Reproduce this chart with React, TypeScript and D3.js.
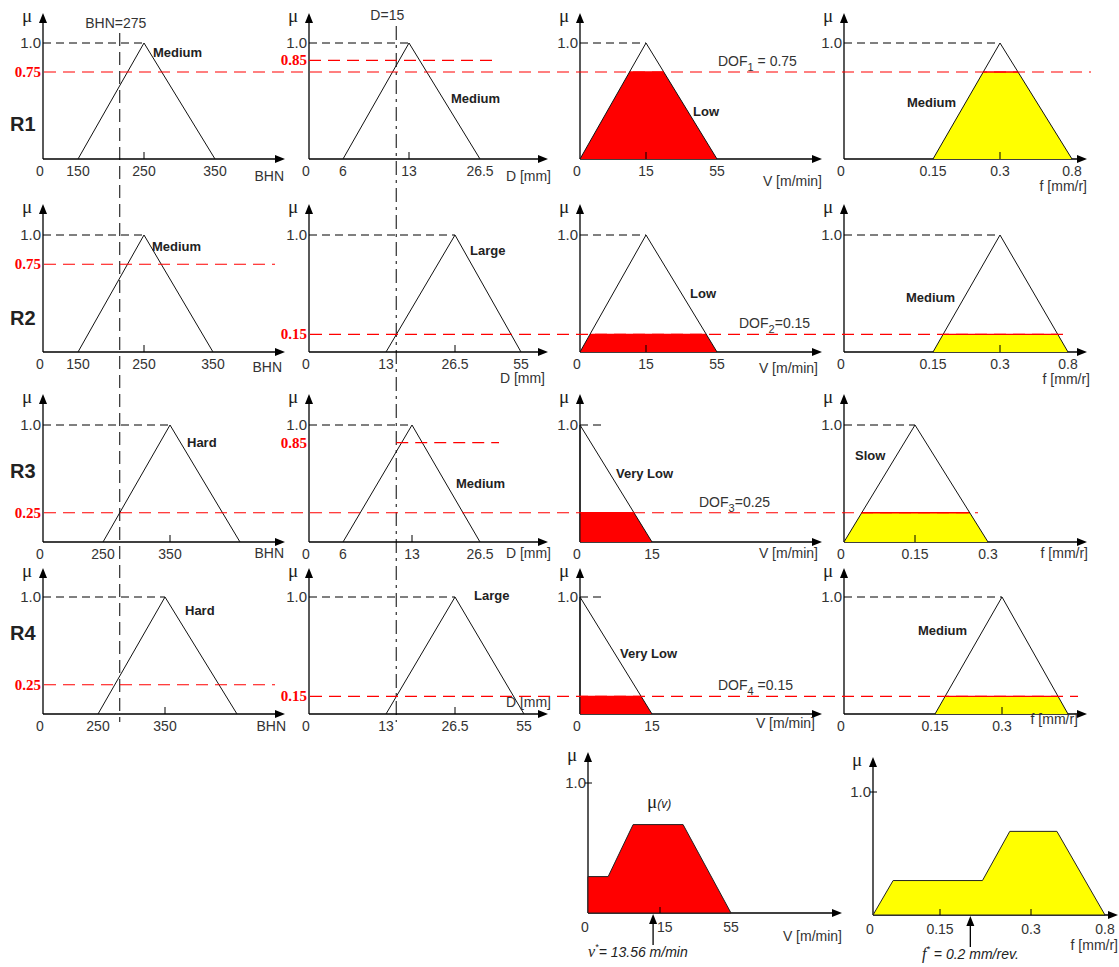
import React from "react";
import * as d3 from "d3";

// ---- rule data ----
const rules = ["R1", "R2", "R3", "R4"];
const dof = [0.75, 0.15, 0.25, 0.15];
const dofSep = [" = ", "=", "=", " ="];

// inputs
const bhnInput = 275;
const dInput = 15;

// hardness BHN
const bhnSets = ["Medium", "Medium", "Hard", "Hard"];
const bhnTri = [[150, 250, 350], [150, 250, 350], [250, 350, 450], [250, 350, 450]];
const bhnTicks = [[0, 150, 250, 350], [0, 150, 250, 350], [0, 250, 350], [0, 250, 350]];
const bhnMu = [0.75, 0.75, 0.25, 0.25];

// depth of cut D
const dSets = ["Medium", "Large", "Medium", "Large"];
const dTri = [[6, 13, 26.5], [13, 26.5, 55], [6, 13, 26.5], [13, 26.5, 55]];
const dTicks = [[0, 6, 13, 26.5], [0, 13, 26.5, 55], [0, 6, 13, 26.5], [0, 13, 26.5, 55]];
const dMu = [0.85, 0.15, 0.85, 0.15];

// cutting speed V
const vSets = ["Low", "Low", "Very Low", "Very Low"];
const vTri = [[0, 15, 55], [0, 15, 55], [0, 0, 15], [0, 0, 15]];
const vTicks = [[0, 15, 55], [0, 15, 55], [0, 15], [0, 15]];

// feed f
const fSets = ["Medium", "Medium", "Slow", "Medium"];
const fTri = [[0.15, 0.3, 0.8], [0.15, 0.3, 0.8], [0, 0.15, 0.3], [0.15, 0.3, 0.8]];
const fTicks = [[0, 0.15, 0.3, 0.8], [0, 0.15, 0.3, 0.8], [0, 0.15, 0.3], [0, 0.15, 0.3]];

// aggregated outputs (bottom row)
const vAggX = [0, 0, 4.2, 9.4, 28, 55];
const vAggMu = [0, 0.28, 0.28, 0.68, 0.68, 0];
const vAggTicks = [0, 15, 55];
const fAggX = [0, 0.045, 0.22, 0.265, 0.475, 0.8];
const fAggMu = [0, 0.28, 0.28, 0.68, 0.68, 0];
const fAggTicks = [0, 0.15, 0.3, 0.8];
const vStar = 13.56;
const fStar = 0.2;

// ---- layout ----
const FONT = "'Liberation Sans', Arial, sans-serif";
const SERIF = "'Liberation Serif', 'Times New Roman', serif";
const rowY = [
  { arrow: 13, one: 43, axis: 159 },
  { arrow: 204, one: 235, axis: 352 },
  { arrow: 394, one: 425, axis: 542 },
  { arrow: 568, one: 597, axis: 714 },
];
const ruleLabelY = [131, 325, 478, 640];
const colX = [
  { x0: 43, x1: 285 },
  { x0: 309, x1: 548 },
  { x0: 580, x1: 822 },
  { x0: 844, x1: 1087 },
];
const gaps = [
  [[35, 66, 71], [34, 66, 71], [66, 71], [89, 67, 72]],
  [[35, 66, 69], [77, 69, 66], [66, 71], [89, 67, 68]],
  [[60, 67, 70], [34, 69, 68], [72], [71, 73]],
  [[55, 67, 72], [77, 69, 69], [72], [91, 67, 66]],
];
const nameOff = [
  [[9, 14], [42, 60], [47, 73], [-93, 64]],
  [[8, 16], [15, 20], [44, 63], [-94, 67]],
  [[17, 22], [44, 63], [36, 53], [-60, 35]],
  [[20, 18], [19, 3], [40, 61], [-84, 38]],
];
const axisTitles = ["BHN", "D [mm]", "V [m/min]", "f [mm/r]"];
const axisTitleEnd = [
  [284, 551, 822, 1087],
  [282, 545, 818, 1090],
  [284, 551, 818, 1088],
  [286, 551, 815, 1078],
];
const axisTitleDy = [
  [22, 22, 27, 32],
  [20, 31, 21, 32],
  [16, 16, 16, 16],
  [17, -7, 14, 10],
];
const dofTextX = [718, 739, 699, 718];
const lineEndDx = [19, -3, -10, 10];
const aggV = { x0: 588, x1: 842, arrow: 752, one: 783, axis: 913, gaps: [72, 71], titleDy: 28 };
const aggF = { x0: 873, x1: 1118, arrow: 757, one: 792, axis: 915, gaps: [67, 91, 74], titleDy: 35 };

function pieceScale(breaks: number[], x0: number, g: number[]) {
  const range = [x0];
  g.forEach((d) => range.push(range[range.length - 1] + d));
  return d3.scaleLinear().domain(breaks).range(range);
}

function breaksOf(tri: number[]) {
  return Array.from(new Set([0, ...tri])).sort((a, b) => a - b);
}

function panelX(row: number, col: number, tri: number[]) {
  return pieceScale(breaksOf(tri), colX[col].x0, gaps[row][col]);
}

function panelY(row: number) {
  return d3.scaleLinear().domain([0, 1]).range([rowY[row].axis, rowY[row].one]);
}

function Axes({ x0, x1, arrow, axis, one }: any) {
  return (
    <g>
      <line x1={x0} y1={axis} x2={x0} y2={arrow + 8} stroke="#000" strokeWidth={1.3} />
      <path d={`M${x0},${arrow} L${x0 - 4},${arrow + 10} L${x0 + 4},${arrow + 10} Z`} fill="#000" />
      <line x1={x0} y1={axis} x2={x1 - 8} y2={axis} stroke="#000" strokeWidth={1.3} />
      <path d={`M${x1},${axis} L${x1 - 10},${axis - 4} L${x1 - 10},${axis + 4} Z`} fill="#000" />
      <text x={x0 - 16} y={arrow + 9} fontFamily={SERIF} fontSize={19} textAnchor="middle" fill="#222">μ</text>
      <text x={x0 - 2} y={one + 5} fontFamily={FONT} fontSize={15} textAnchor="end" fill="#333">1.0</text>
    </g>
  );
}

function MfPanel({ row, col, tri, ticks, name, fill, level }: any) {
  const { x0, x1 } = colX[col];
  const { arrow, one, axis } = rowY[row];
  const xs = panelX(row, col, tri);
  const ys = panelY(row);
  const line = d3.line<number[]>().x((d) => xs(d[0])).y((d) => ys(d[1]));
  const [a, b, c] = tri;
  const peakX = xs(b);
  const clip = [[a, 0], [a + level * (b - a), level], [c - level * (c - b), level], [c, 0]];
  const off = nameOff[row][col];
  return (
    <g>
      <Axes x0={x0} x1={x1} arrow={arrow} axis={axis} one={one} />
      <line x1={x0} y1={ys(1)} x2={Math.max(peakX, x0 + 22)} y2={ys(1)} stroke="#000" strokeDasharray="8,5" />
      {fill && <path d={line(clip) + "Z"} fill={fill} stroke="none" />}
      {fill && (
        <line x1={xs(clip[1][0])} x2={xs(clip[2][0])} y1={ys(level)} y2={ys(level)} stroke="#ff0000" strokeWidth={1.3} />
      )}
      <path d={line([[a, 0], [b, 1], [c, 0]]) || ""} fill="none" stroke="#111" strokeWidth={1} />
      {b > 0 && <line x1={peakX} x2={peakX} y1={axis - 7} y2={axis} stroke="#000" />}
      {ticks.map((t: number) => (
        <text key={t} x={t === 0 ? x0 - 3 : xs(t)} y={axis + 17} fontFamily={FONT} fontSize={14}
          textAnchor="middle" fill="#333">{String(t)}</text>
      ))}
      <text x={axisTitleEnd[row][col]} y={axis + axisTitleDy[row][col]} fontFamily={FONT} fontSize={14}
        textAnchor="end" fill="#333">{axisTitles[col]}</text>
      <text x={peakX + off[0]} y={ys(1) + off[1]} fontFamily={FONT} fontSize={13} fontWeight="bold"
        fill="#222">{name}</text>
    </g>
  );
}

function AggPanel({ cfg, xv, mu, ticks, fill, star, title, starLabel, labelX }: any) {
  const { x0, x1, arrow, one, axis } = cfg;
  const xs = pieceScale(ticks, x0, cfg.gaps);
  const ys = d3.scaleLinear().domain([0, 1]).range([axis, one]);
  const pts = xv.map((x: number, i: number) => [x, mu[i]]);
  const line = d3.line<number[]>().x((d) => xs(d[0])).y((d) => ys(d[1]));
  const sx = xs(star);
  return (
    <g>
      <Axes x0={x0} x1={x1} arrow={arrow} axis={axis} one={one} />
      <line x1={x0 - 3} x2={x0 + 4} y1={one} y2={one} stroke="#000" />
      <path d={line(pts) + "Z"} fill={fill} stroke="#222" strokeWidth={1} />
      {ticks.filter((t: number) => t > 0 && t < ticks[ticks.length - 1]).map((t: number) => (
        <line key={t} x1={xs(t)} x2={xs(t)} y1={axis - 6} y2={axis} stroke="#000" />
      ))}
      {ticks.map((t: number) => {
        // keep the tick text clear of the crisp-value arrow
        const tx = t === 0 ? x0 - 3 : xs(t);
        const clash = t > 0 && Math.abs(tx - sx) < 14;
        return (
          <text key={t} x={clash ? sx + 4 : tx} y={axis + 19} fontFamily={FONT} fontSize={14}
            textAnchor={clash ? "start" : "middle"} fill="#333">{String(t)}</text>
        );
      })}
      <text x={x1} y={axis + cfg.titleDy} fontFamily={FONT} fontSize={14} textAnchor="end" fill="#333">{title}</text>
      <line x1={sx} x2={sx} y1={axis + 32} y2={axis + 8} stroke="#000" strokeWidth={1.3} />
      <path d={`M${sx},${axis + 1} L${sx - 4},${axis + 11} L${sx + 4},${axis + 11} Z`} fill="#000" />
      <text x={labelX} y={axis + 44} fontFamily={FONT} fontSize={14} fontStyle="italic" fill="#222">
        <tspan fontFamily={SERIF} fontSize={16}>{starLabel[0]}</tspan>
        <tspan dy={-7} fontSize={9}>*</tspan>
        <tspan dy={7}>{starLabel[1]}</tspan>
      </text>
    </g>
  );
}

export default function App() {
  const W = 1119;
  const H = 967;
  const bhnX = panelX(2, 0, bhnTri[2])(bhnInput);
  const dX = panelX(1, 1, dTri[1])(dInput);

  return (
    <svg width={W} height={H} style={{ position: "absolute", left: 0, top: 0, background: "#fff" }}>
      <rect width={W} height={H} fill="#fff" />

      {/* input value lines */}
      <text x={bhnX - 4} y={28} fontFamily={FONT} fontSize={14} textAnchor="middle" fill="#333">
        BHN={bhnInput}
      </text>
      <line x1={bhnX} x2={bhnX} y1={33} y2={722} stroke="#000" strokeDasharray="13,6" />
      <text x={dX + 8} y={20} fontFamily={FONT} fontSize={14} textAnchor="end" fill="#333">
        D={dInput}
      </text>
      <line x1={dX} x2={dX} y1={26} y2={722} stroke="#000" strokeDasharray="14,5,3,5" />

      {rules.map((r, i) => {
        const ys = panelY(i);
        const fEnd = panelX(i, 3, fTri[i])(fTri[i][2]) + lineEndDx[i];
        const bhnSpans = bhnMu[i] === dof[i];
        const bx0 = colX[0].x0;
        const dx0 = colX[1].x0;
        const dStart = i === 0 ? dx0 : dX;
        return (
          <g key={r}>
            <text x={10} y={ruleLabelY[i]} fontFamily={FONT} fontSize={20} fontWeight="bold" fill="#222">{r}</text>
            <MfPanel row={i} col={0} tri={bhnTri[i]} ticks={bhnTicks[i]} name={bhnSets[i]} fill={null} level={0} />
            <MfPanel row={i} col={1} tri={dTri[i]} ticks={dTicks[i]} name={dSets[i]} fill={null} level={0} />
            <MfPanel row={i} col={2} tri={vTri[i]} ticks={vTicks[i]} name={vSets[i]} fill="#ff0000" level={dof[i]} />
            <MfPanel row={i} col={3} tri={fTri[i]} ticks={fTicks[i]} name={fSets[i]} fill="#ffff00" level={dof[i]} />

            {/* membership degree lines */}
            <line x1={bx0 + 1} x2={bhnSpans ? fEnd : bx0 + 232} y1={ys(bhnMu[i])} y2={ys(bhnMu[i])}
              stroke="#ff0000" strokeDasharray="12,7" strokeWidth={1.2} />
            <line x1={bhnSpans ? dStart : dx0 + 1} x2={bhnSpans ? dx0 + 190 : fEnd} y1={ys(dMu[i])} y2={ys(dMu[i])}
              stroke="#ff0000" strokeDasharray="12,7" strokeWidth={1.2} />
            <text x={bx0 - 2} y={ys(bhnMu[i]) + 5} fontFamily={SERIF} fontSize={15} fontWeight="bold"
              textAnchor="end" fill="#ff0000">{bhnMu[i].toFixed(2)}</text>
            <text x={dx0 - 2} y={ys(dMu[i]) + 5} fontFamily={SERIF} fontSize={15} fontWeight="bold"
              textAnchor="end" fill="#ff0000">{dMu[i].toFixed(2)}</text>
            <text x={dofTextX[i]} y={ys(dof[i]) - 6} fontFamily={FONT} fontSize={14} fill="#333">
              DOF<tspan dy={5} fontSize={11}>{i + 1}</tspan>
              <tspan dy={-5}>{dofSep[i]}{dof[i].toFixed(2)}</tspan>
            </text>
          </g>
        );
      })}

      <AggPanel cfg={aggV} xv={vAggX} mu={vAggMu} ticks={vAggTicks} fill="#ff0000" star={vStar}
        title="V [m/min]" starLabel={["v", "= 13.56 m/min"]} labelX={588} />
      <text x={647} y={808} fill="#222">
        <tspan fontFamily={SERIF} fontSize={19}>μ</tspan>
        <tspan fontFamily={FONT} fontSize={12} fontStyle="italic">(v)</tspan>
      </text>
      <AggPanel cfg={aggF} xv={fAggX} mu={fAggMu} ticks={fAggTicks} fill="#ffff00" star={fStar}
        title="f [mm/r]" starLabel={["f", " = 0.2 mm/rev."]} labelX={922} />
    </svg>
  );
}
